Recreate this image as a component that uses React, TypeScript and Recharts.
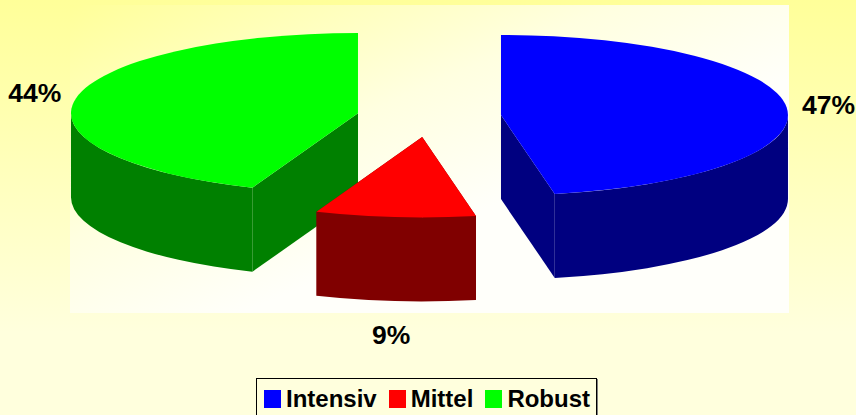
import * as React from "react";
import { Legend, Pie, PieChart } from "recharts";

// drawn back to front: Robust first so Mittel sits on top of its wall
const categories = ["Robust", "Intensiv", "Mittel"];
const shares = [44, 47, 9];
const topColors = ["#00FF00", "#0000FF", "#FF0000"];
const wallColors: Record<string, string> = {
  "#00FF00": "#008000",
  "#0000FF": "#000080",
  "#FF0000": "#800000",
};

const data = categories.map((name, i) => ({
  name,
  value: shares[i],
  fill: topColors[i],
}));

const WIDTH = 856;
const HEIGHT = 415;
const RADIUS = 287;
const SQUASH = 0.2795;
const DEPTH = 84;
const EXPLODE = 72.3;

const rad = (deg: number) => (deg * Math.PI) / 180;

const Slice3D = (props: any) => {
  const { cx, cy, outerRadius, startAngle, endAngle, fill } = props;
  const mid = rad((startAngle + endAngle) / 2);
  const ax = cx + EXPLODE * Math.cos(mid);
  const ay = cy - EXPLODE * SQUASH * Math.sin(mid);
  const ry = outerRadius * SQUASH;
  const pt = (a: number, drop = 0) => [
    ax + outerRadius * Math.cos(rad(a)),
    ay - ry * Math.sin(rad(a)) + drop,
  ];
  const arc = (a: number, b: number, drop: number, sweep: number) => {
    const [x, y] = pt(b, drop);
    return `A${outerRadius},${ry} 0 ${Math.abs(a - b) > 180 ? 1 : 0} ${sweep} ${x},${y}`;
  };

  const [sx, sy] = pt(startAngle);
  const [ex, ey] = pt(endAngle);
  const top = `M${ax},${ay} L${sx},${sy} ${arc(startAngle, endAngle, 0, 1)} Z`;
  const quad = (x: number, y: number) =>
    `M${ax},${ay} L${x},${y} L${x},${y + DEPTH} L${ax},${ay + DEPTH} Z`;

  // outer wall is only seen on the front half of the ellipse
  const walls: string[] = [];
  for (const shift of [0, 360]) {
    const a = Math.min(startAngle + shift, 0);
    const b = Math.max(endAngle + shift, -180);
    if (a > b) {
      const [x0, y0] = pt(a);
      const [x1, y1] = pt(a, DEPTH);
      const [x2, y2] = pt(b);
      walls.push(
        `M${x0},${y0} L${x1},${y1} ${arc(a, b, DEPTH, 1)} L${x2},${y2} ${arc(b, a, 0, 0)} Z`,
      );
    }
  }

  const dark = wallColors[fill];
  return (
    <g>
      <path d={quad(sx, sy)} fill={dark} />
      <path d={quad(ex, ey)} fill={dark} />
      {walls.map((d) => (
        <path key={d} d={d} fill={dark} />
      ))}
      <path d={top} fill={fill} />
    </g>
  );
};

const percentLabel = (props: any) => {
  const { cx, cy, outerRadius, startAngle, endAngle, value } = props;
  const mid = rad((startAngle + endAngle) / 2);
  const s = Math.sin(mid);
  const ax = cx + EXPLODE * Math.cos(mid);
  const ay = cy - EXPLODE * SQUASH * s;
  const x = ax + (outerRadius + 42) * Math.cos(mid);
  const y = ay - 110 * s + (s < 0 ? 88 : 0);
  return (
    <text
      x={x}
      y={y}
      textAnchor="middle"
      dominantBaseline="central"
      fill="#000000"
      fontFamily="Liberation Sans"
      fontWeight="bold"
      fontSize={26.5}
    >
      {`${value}%`}
    </text>
  );
};

const LegendBox = ({ payload }: any) => (
  <div
    style={{
      display: "flex",
      alignItems: "center",
      boxSizing: "border-box",
      width: 341,
      height: 42,
      paddingLeft: 7,
      border: "1px solid #000000",
      boxShadow: "1px 1px 0 #808080",
      fontFamily: "Liberation Sans",
      fontWeight: "bold",
      fontSize: 24,
      color: "#000000",
    }}
  >
    {(payload || []).map((item: any) => (
      <div
        key={item.value}
        style={{ display: "flex", alignItems: "center", marginRight: 12, marginTop: -1 }}
      >
        <span
          style={{
            width: 17,
            height: 18,
            marginRight: 5,
            background: item.payload.fill,
          }}
        />
        <span>{item.value}</span>
      </div>
    ))}
  </div>
);

export default function App() {
  return (
    <div
      style={{
        position: "absolute",
        left: 0,
        top: 0,
        width: WIDTH,
        height: HEIGHT,
        overflow: "hidden",
        background: "linear-gradient(to bottom, #FFFF99 0%, #FFFFDD 80%, #FFFFDD 100%)",
      }}
    >
      <div
        style={{
          position: "absolute",
          left: 70,
          top: 5,
          width: 719,
          height: 308,
          background:
            "linear-gradient(to bottom right, #FFFF99 0%, #FFFFE0 38%, #FFFFFA 62%, #FFFFFA 100%)",
        }}
      />
      <PieChart
        width={WIDTH}
        height={HEIGHT}
        margin={{ top: 0, right: 0, bottom: 0, left: 0 }}
        style={{ position: "absolute", left: 0, top: 0 }}
      >
        <Pie
          data={data}
          dataKey="value"
          nameKey="name"
          cx={429}
          cy={117}
          outerRadius={RADIUS}
          startAngle={-111.6}
          endAngle={-471.6}
          stroke="none"
          shape={Slice3D}
          label={percentLabel}
          labelLine={false}
          isAnimationActive={false}
        />
        <Legend
          content={<LegendBox />}
          wrapperStyle={{ left: 256, top: 378, width: 341, bottom: "auto" }}
        />
      </PieChart>
    </div>
  );
}
